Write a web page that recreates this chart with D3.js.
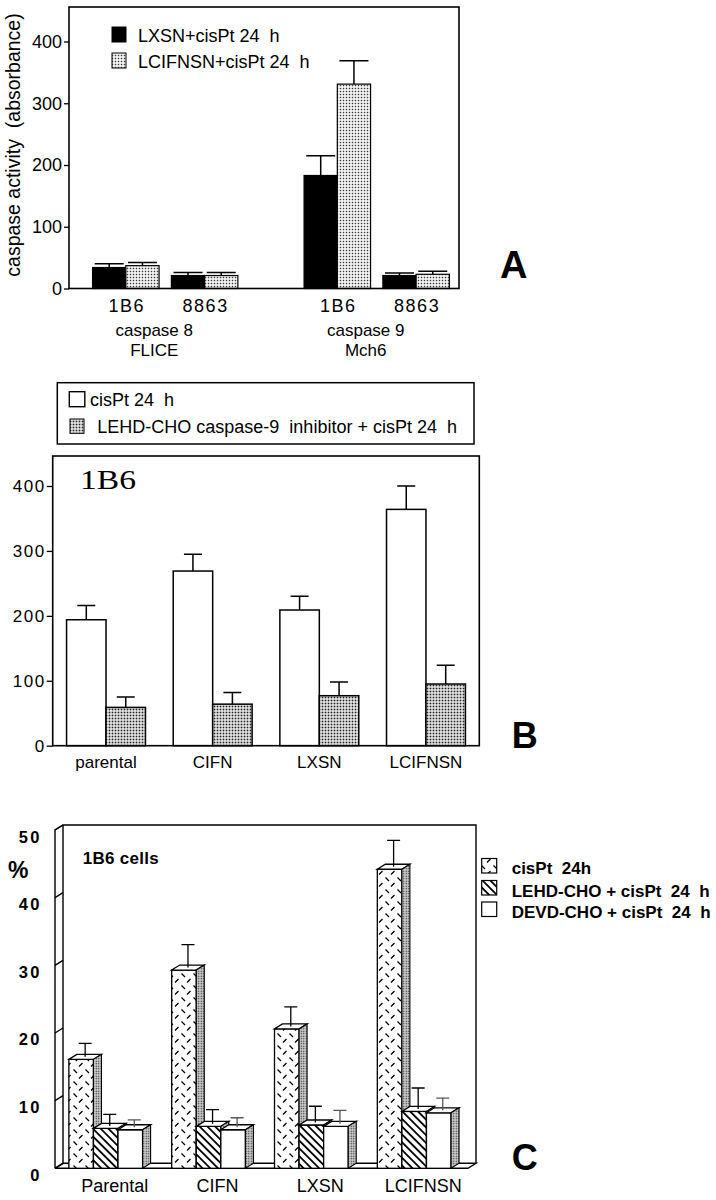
<!DOCTYPE html>
<html><head><meta charset="utf-8">
<script src="https://cdn.jsdelivr.net/npm/d3@7"></script>
<style>body{margin:0;background:#fff} svg{display:block;font-family:"Liberation Sans",Arial,Helvetica,sans-serif} text{white-space:pre}</style>
</head><body>
<script>
// ---------- Panel A data ----------
const aEnzymes = ["caspase 8", "caspase 9"];
const aEnzymeNames = ["FLICE", "Mch6"];
const aCells = ["1B6", "8863"];
const aSeries = ["LXSN+cisPt 24  h", "LCIFNSN+cisPt 24  h"];
const aLXSN = [34, 21, 183, 21];
const aLXSNErr = [6, 5, 32, 4];
const aLCIFNSN = [37, 21, 331, 23];
const aLCIFNSNErr = [5, 5, 38, 5];
const aTicks = [0, 100, 200, 300, 400];

// ---------- Panel B data ----------
const bCells = ["parental", "CIFN", "LXSN", "LCIFNSN"];
const bSeries = ["cisPt 24  h", "LEHD-CHO caspase-9  inhibitor + cisPt 24  h"];
const bCisPt = [194, 269, 209, 364];
const bCisPtErr = [22, 26, 21, 36];
const bLEHD = [59, 64, 77, 95];
const bLEHDErr = [16, 18, 21, 29];
const bTicks = [0, 100, 200, 300, 400];

// ---------- Panel C data ----------
const cCells = ["Parental", "CIFN", "LXSN", "LCIFNSN"];
const cSeries = ["cisPt  24h", "LEHD-CHO + cisPt  24  h", "DEVD-CHO + cisPt  24  h"];
const cCisPt = [16.1, 29.3, 20.6, 44.2];
const cCisPtErr = [2.0, 3.4, 2.9, 3.9];
const cLEHD = [5.9, 6.2, 6.4, 8.4];
const cLEHDErr = [1.7, 2.1, 2.4, 3.1];
const cDEVD = [5.7, 5.7, 6.2, 8.2];
const cDEVDErr = [1.1, 1.4, 2.0, 1.8];
const cTicks = [0, 10, 20, 30, 40, 50];

const FONT = '"Liberation Sans", Arial, Helvetica, sans-serif';
const svg = d3.select("body").append("svg").attr("width", 716).attr("height", 1200);
svg.append("rect").attr("width", 716).attr("height", 1200).attr("fill", "#fff");

// ---------- patterns ----------
const defs = svg.append("defs");
function dots(id, tile, size, color, bg) {
  const p = defs.append("pattern").attr("id", id).attr("patternUnits", "userSpaceOnUse")
    .attr("width", tile).attr("height", tile);
  p.append("rect").attr("width", tile).attr("height", tile).attr("fill", bg);
  p.append("rect").attr("x", (tile - size) / 2).attr("y", (tile - size) / 2)
    .attr("width", size).attr("height", size).attr("fill", color);
}
dots("stA", 3, 1.5, "#3a3a3a", "#fff");
dots("stB", 3, 1.8, "#222", "#fff");
dots("side", 2.5, 1.3, "#222", "#d8d8d8");
const hp = defs.append("pattern").attr("id", "hatch").attr("patternUnits", "userSpaceOnUse")
  .attr("width", 5.5).attr("height", 5.5).attr("patternTransform", "rotate(45)");
hp.append("rect").attr("width", 5.5).attr("height", 5.5).attr("fill", "#fff");
hp.append("rect").attr("width", 5.5).attr("height", 1.8).attr("fill", "#000");
const dp = defs.append("pattern").attr("id", "dash").attr("patternUnits", "userSpaceOnUse")
  .attr("width", 12).attr("height", 12);
dp.append("rect").attr("width", 12).attr("height", 12).attr("fill", "#fff");
dp.append("path").attr("d", "M1.5,1.5L5,5M7,10.5L10.5,7").attr("stroke", "#000").attr("stroke-width", 1.3).attr("fill", "none");

function txt(g, x, y, s, size, opts = {}) {
  const t = g.append("text").attr("x", x).attr("y", y).text(s)
    .attr("font-size", size).attr("font-family", opts.family || FONT).attr("fill", "#000");
  if (opts.anchor) t.attr("text-anchor", opts.anchor);
  if (opts.bold) t.attr("font-weight", "bold");
  if (opts.ls) t.attr("letter-spacing", opts.ls);
  if (opts.tl) t.attr("textLength", opts.tl).attr("lengthAdjust", "spacingAndGlyphs");
  return t;
}

// =================== PANEL A ===================
const gA = svg.append("g");
const aY = d3.scaleLinear().domain([0, 400]).range([288.5, 41.5]);
const aX0 = d3.scaleBand().domain(aEnzymes).range([69, 459]).paddingInner(0.313).paddingOuter(0.0785).align(0.71);
const aX1 = d3.scaleBand().domain(aCells).range([0, aX0.bandwidth()]).paddingInner(0.156);
const aX2 = d3.scaleBand().domain(aSeries).range([0, aX1.bandwidth()]);
const aVals = [aLXSN, aLCIFNSN], aErrs = [aLXSNErr, aLCIFNSNErr], aFills = ["#000", "url(#stA)"];
const aData = [];
aEnzymes.forEach((e, ei) => aCells.forEach((c, ci) => aSeries.forEach((s, si) =>
  aData.push({ e, c, s, si, v: aVals[si][ei * 2 + ci], err: aErrs[si][ei * 2 + ci] }))));
const aBx = d => aX0(d.e) + aX1(d.c) + aX2(d.s);
gA.selectAll(".eb").data(aData).enter().append("path")
  .attr("d", d => {
    const cx = aBx(d) + aX2.bandwidth() / 2, yt = aY(d.v + d.err);
    return `M${cx},${aY(d.v)}V${yt}M${cx - 14.5},${yt}H${cx + 14.5}`;
  }).attr("stroke", "#000").attr("stroke-width", 1.5).attr("fill", "none");
gA.selectAll(".bar").data(aData).enter().append("rect")
  .attr("x", aBx).attr("y", d => aY(d.v)).attr("width", aX2.bandwidth())
  .attr("height", d => aY(0) - aY(d.v)).attr("fill", d => aFills[d.si])
  .attr("stroke", "#000").attr("stroke-width", 1.2);
gA.append("rect").attr("x", 69).attr("y", 7).attr("width", 390).attr("height", aY(0) - 7)
  .attr("fill", "none").attr("stroke", "#000").attr("stroke-width", 1.6);
const aAxis = gA.append("g").attr("transform", "translate(69,0)")
  .call(d3.axisLeft(aY).tickValues(aTicks).tickSize(5).tickPadding(2).tickSizeOuter(0));
aAxis.select(".domain").remove();
aAxis.selectAll("line").attr("stroke", "#000").attr("stroke-width", 1.3);
aAxis.selectAll("text").attr("font-size", 18).attr("font-family", FONT).attr("fill", "#000");
txt(gA, 0, 0, "caspase activity  (absorbance)", 19.5, { anchor: "middle" })
  .attr("transform", "translate(19.5,145) rotate(-90)");
// legend A
aSeries.forEach((s, i) => {
  gA.append("rect").attr("x", 112).attr("y", 27 + i * 26).attr("width", 14).attr("height", 15)
    .attr("fill", aFills[i]).attr("stroke", "#000").attr("stroke-width", 1);
  txt(gA, 138, 42 + i * 26, s, 18);
});
// category labels
aData.filter(d => d.si === 0).forEach(d => {
  txt(gA, aX0(d.e) + aX1(d.c) + aX1.bandwidth() / 2 + 1, 312, d.c, 18, { anchor: "middle", ls: 1.5 });
});
aEnzymes.forEach((e, i) => {
  const cx = aX0(e) + aX0.bandwidth() / 2 - 11;
  txt(gA, cx, 336, e, 17, { anchor: "middle" });
  txt(gA, cx, 356, aEnzymeNames[i], 17, { anchor: "middle" });
});
txt(gA, 500, 278, "A", 38, { bold: true });

// =================== PANEL B ===================
const gB = svg.append("g");
gB.append("rect").attr("x", 57.3).attr("y", 382.7).attr("width", 416.7).attr("height", 61.3)
  .attr("fill", "none").attr("stroke", "#000").attr("stroke-width", 1.5);
const bFills = ["#fff", "url(#stB)"];
gB.append("rect").attr("x", 69.3).attr("y", 391.7).attr("width", 15.5).attr("height", 15)
  .attr("fill", bFills[0]).attr("stroke", "#000").attr("stroke-width", 1.4);
txt(gB, 90, 406, bSeries[0], 18);
gB.append("rect").attr("x", 70).attr("y", 419).attr("width", 14).attr("height", 14.3)
  .attr("fill", bFills[1]).attr("stroke", "#000").attr("stroke-width", 1);
txt(gB, 97.3, 433.3, bSeries[1], 18);

const bY = d3.scaleLinear().domain([0, 400]).range([745.7, 486]);
const bX0 = d3.scaleBand().domain(bCells).range([52.7, 479.3]).paddingInner(0.26).paddingOuter(0.13);
const bX1 = d3.scaleBand().domain(bSeries).range([0, bX0.bandwidth()]);
const bVals = [bCisPt, bLEHD], bErrs = [bCisPtErr, bLEHDErr];
const bData = [];
bCells.forEach((c, ci) => bSeries.forEach((s, si) => bData.push({ c, s, si, v: bVals[si][ci], err: bErrs[si][ci] })));
const bBx = d => bX0(d.c) + bX1(d.s);
gB.selectAll(".eb").data(bData).enter().append("path")
  .attr("d", d => {
    const cx = bBx(d) + bX1.bandwidth() / 2, yt = bY(d.v + d.err);
    return `M${cx},${bY(d.v)}V${yt}M${cx - 9},${yt}H${cx + 9}`;
  }).attr("stroke", "#000").attr("stroke-width", 1.5).attr("fill", "none");
gB.selectAll(".bar").data(bData).enter().append("rect")
  .attr("x", bBx).attr("y", d => bY(d.v)).attr("width", bX1.bandwidth())
  .attr("height", d => bY(0) - bY(d.v)).attr("fill", d => bFills[d.si])
  .attr("stroke", "#000").attr("stroke-width", 1.5);
gB.append("rect").attr("x", 52.7).attr("y", 456).attr("width", 426.6).attr("height", bY(0) - 456)
  .attr("fill", "none").attr("stroke", "#000").attr("stroke-width", 1.6);
const bAxis = gB.append("g").attr("transform", "translate(52.7,0)")
  .call(d3.axisLeft(bY).tickValues(bTicks).tickSize(6).tickPadding(1).tickSizeOuter(0));
bAxis.select(".domain").remove();
bAxis.selectAll("line").attr("stroke", "#000").attr("stroke-width", 1.3);
bAxis.selectAll("text").attr("font-size", 17).attr("font-family", FONT).attr("fill", "#000").attr("letter-spacing", 1.5);
txt(gB, 80, 489.3, "1B6", 27, { family: '"Liberation Serif", "Times New Roman", serif', tl: 56 });
bCells.forEach(c => txt(gB, bX0(c) + bX0.bandwidth() / 2, 768, c, 17, { anchor: "middle" }));
txt(gB, 511.7, 748, "B", 36, { bold: true });

// =================== PANEL C ===================
const gC = svg.append("g");
const DX = 8, DY = -5;
const cY = d3.scaleLinear().domain([0, 50]).range([1168.3, 830]);
const cLeft = 55, cRight = 468;
const cX0 = d3.scaleBand().domain(cCells).range([cLeft, cRight]).paddingInner(0.283).paddingOuter(0.15).align(0.45);
const cX1 = d3.scaleBand().domain(cSeries).range([0, cX0.bandwidth()]);
const y0 = cY(0), yTop = cY(50);
const frame = gC.append("g").attr("stroke", "#000").attr("fill", "none").attr("stroke-width", 1.4);
frame.append("path").attr("d",
  `M${cLeft + DX},${y0 + DY}V${yTop + DY}H${cRight + DX}V${y0 + DY}` +
  `M${cLeft},${y0}H${cRight}L${cRight + DX},${y0 + DY}H${cLeft + DX}L${cLeft},${y0}` +
  `M${cLeft},${y0}V${yTop}L${cLeft + DX},${yTop + DY}`);
cTicks.forEach(t => {
  frame.append("line").attr("x1", cLeft).attr("y1", cY(t)).attr("x2", cLeft + DX).attr("y2", cY(t) + DY);
  txt(gC, 42, cY(t) + 12.5, String(t), 16.5, { anchor: "end", bold: true, ls: 2.5 });
});
const cVals = [cCisPt, cLEHD, cDEVD], cErrs = [cCisPtErr, cLEHDErr, cDEVDErr];
const cFills = ["url(#dash)", "url(#hatch)", "#fff"];
const cData = [];
cCells.forEach((c, ci) => cSeries.forEach((s, si) => cData.push({ c, s, si, v: cVals[si][ci], err: cErrs[si][ci] })));
const w = cX1.bandwidth();
cData.forEach(d => {
  const x = cX0(d.c) + cX1(d.s), yv = cY(d.v);
  gC.append("rect").attr("x", x).attr("y", yv).attr("width", w).attr("height", y0 - yv)
    .attr("fill", cFills[d.si]).attr("stroke", "#000").attr("stroke-width", 1.3);
  gC.append("path").attr("d", `M${x},${yv}L${x + DX},${yv + DY}H${x + w + DX}L${x + w},${yv}Z`)
    .attr("fill", "#fff").attr("stroke", "#000").attr("stroke-width", 1.3);
  gC.append("path").attr("d", `M${x + w},${yv}L${x + w + DX},${yv + DY}V${y0 + DY}L${x + w},${y0}Z`)
    .attr("fill", "url(#side)").attr("stroke", "#000").attr("stroke-width", 1.1);
});
cData.forEach(d => {
  const cx = cX0(d.c) + cX1(d.s) + w / 2 + DX / 2;
  const yb = cY(d.v) + DY / 2, yt = cY(d.v + d.err) + DY / 2;
  gC.append("path").attr("d", `M${cx},${yb}V${yt}M${cx - 6.5},${yt}H${cx + 6.5}`)
    .attr("stroke", d.si === 2 ? "#555" : "#000").attr("stroke-width", 1.3).attr("fill", "none");
});
cCells.forEach(c => txt(gC, cX0(c) + cX0.bandwidth() / 2 + 9, 1191.5, c, 18, { anchor: "middle" }));
txt(gC, 82.7, 864, "1B6 cells", 17, { bold: true, ls: 0.3 });
txt(gC, 8, 878, "%", 23, { bold: true });
const cLegY = [858.5, 880.5, 902];
const cLegB = [874, 896.5, 917.5];
cSeries.forEach((s, i) => {
  gC.append("rect").attr("x", 481.7).attr("y", cLegY[i]).attr("width", 15).attr("height", 14.5)
    .attr("fill", cFills[i]).attr("stroke", "#000").attr("stroke-width", 1.2);
  txt(gC, 511.7, cLegB[i], s, 17, { bold: true });
});
txt(gC, 511.7, 1170, "C", 36, { bold: true });
</script></body></html>
